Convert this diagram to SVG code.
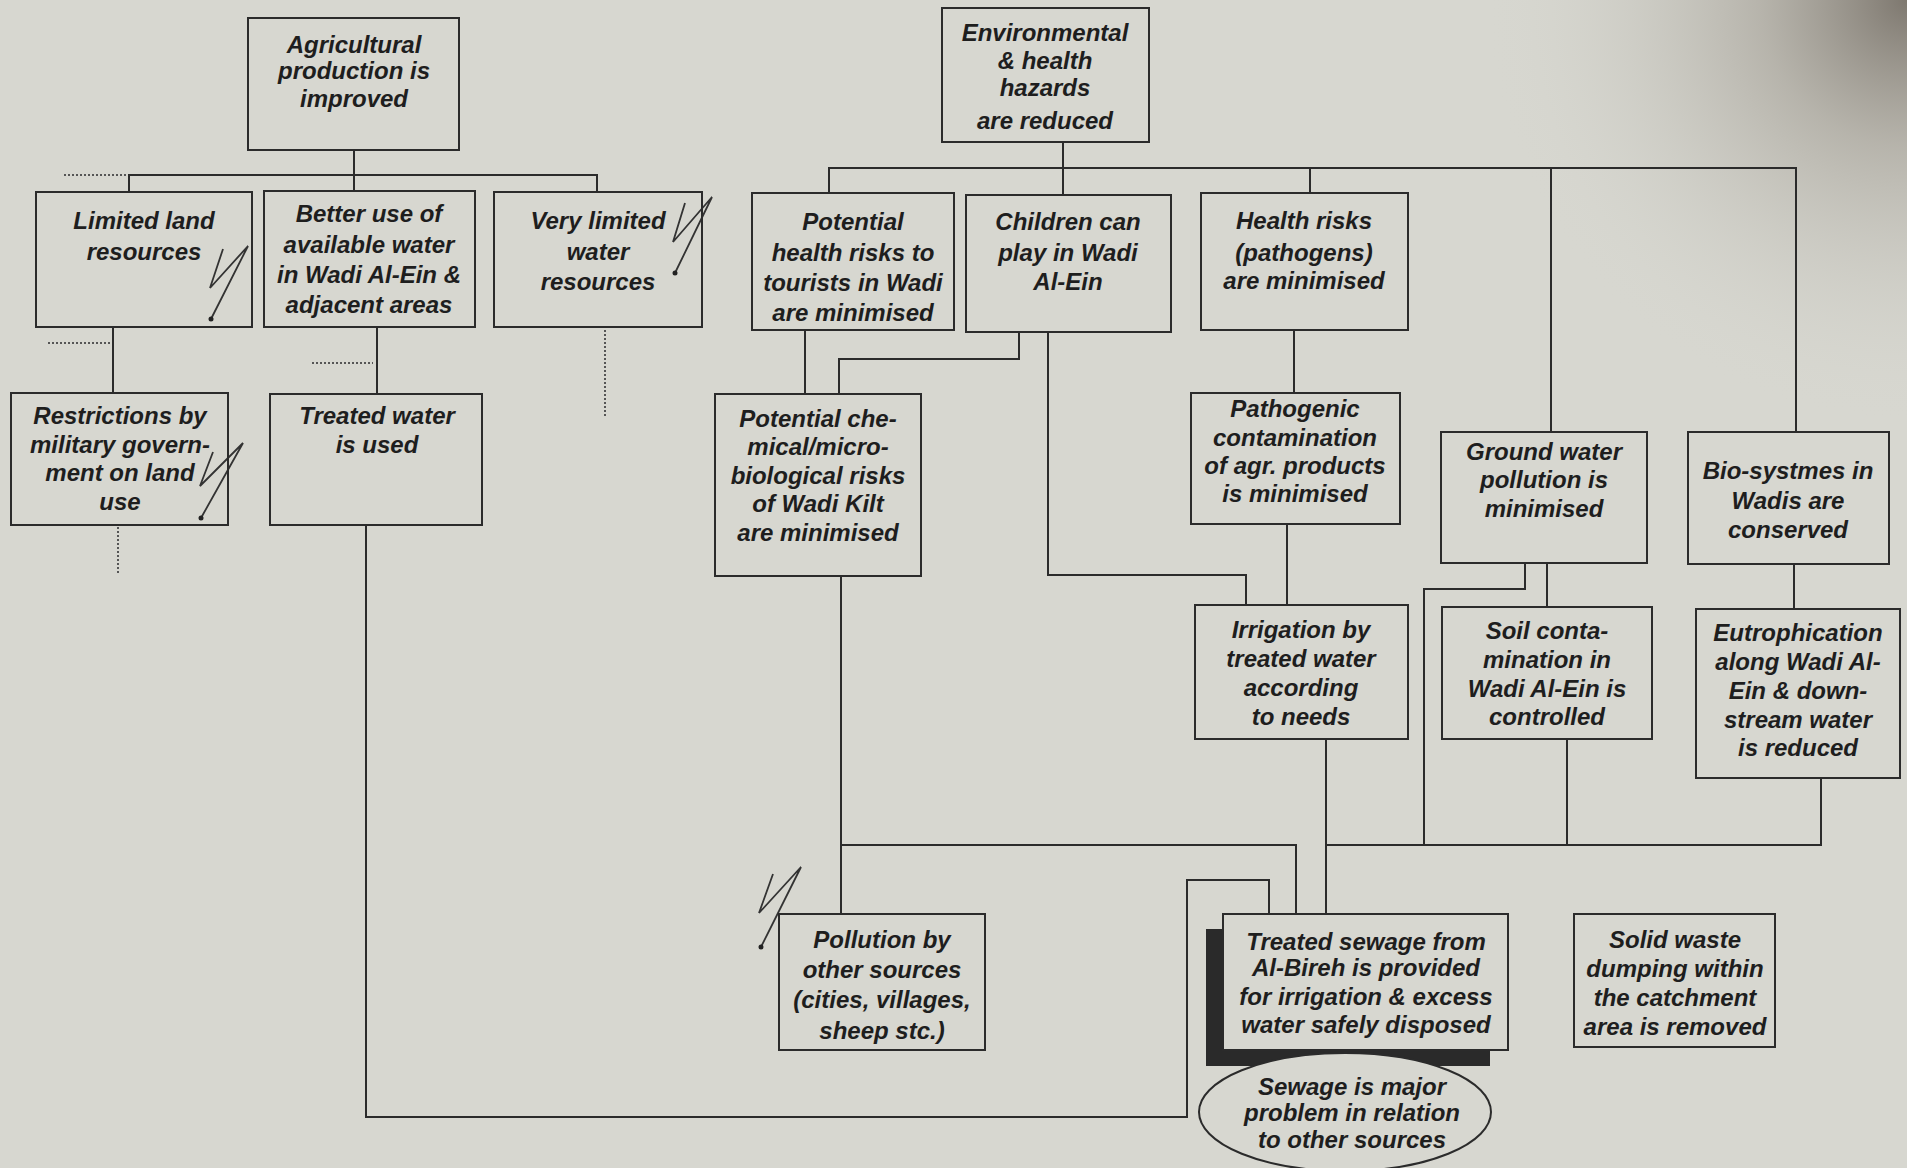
<svg xmlns="http://www.w3.org/2000/svg" width="1907" height="1168" viewBox="0 0 1907 1168">
<defs>
<radialGradient id="vig" cx="1907" cy="0" r="420" gradientUnits="userSpaceOnUse">
<stop offset="0" stop-color="#6e675e" stop-opacity="0.85"/>
<stop offset="0.35" stop-color="#8f897f" stop-opacity="0.45"/>
<stop offset="1" stop-color="#d6d6cf" stop-opacity="0"/>
</radialGradient>
<style>
.box{fill:none;stroke:#2b2b2b;stroke-width:2}
.ln{fill:none;stroke:#2b2b2b;stroke-width:2}
.dot{fill:none;stroke:#555;stroke-width:2;stroke-dasharray:2 2}
.zz{fill:none;stroke:#333;stroke-width:1.8;stroke-linejoin:miter}
.t{font-family:"Liberation Sans",Arial,sans-serif;font-style:italic;font-weight:bold;font-size:24px;fill:#1e1e1e;text-anchor:middle}
</style>
</defs>
<rect x="0" y="0" width="1907" height="1168" fill="#d7d7d0"/>
<rect x="0" y="0" width="1907" height="1168" fill="url(#vig)"/>

<g id="connectors">
<path class="ln" d="M354 150V175M129 192V175H597V192M354 175V191"/>
<path class="ln" d="M113 327V393M377 327V394"/>
<path class="ln" d="M366 525V1117H1187V880H1269V914"/>
<path class="ln" d="M1063 142V168M829 193V168H1796V432M1063 168V195M1310 168V193M1551 168V432"/>
<path class="ln" d="M805 330V394M1019 332V359H839V394"/>
<path class="ln" d="M1048 332V575H1246V605"/>
<path class="ln" d="M1294 330V393M1287 524V605"/>
<path class="ln" d="M1547 563V607M1525 563V589H1424V845"/>
<path class="ln" d="M1794 564V609"/>
<path class="ln" d="M841 576V914M841 845H1296V914"/>
<path class="ln" d="M1326 739V914M1326 845H1821V778M1567 739V845"/>
<path class="dot" d="M64 175H127M48 343H110M312 363H373M605 330V416M118 527V574"/>
</g>

<g id="marks">
<polyline class="zz" points="223,249 210,288 248,246 211,319"/><circle cx="211" cy="319" r="2.5" fill="#222"/>
<polyline class="zz" points="685,203 673,242 712,197 675,273"/><circle cx="675" cy="273" r="2.5" fill="#222"/>
<polyline class="zz" points="213,452 200,486 243,443 201,518"/><circle cx="201" cy="518" r="2.5" fill="#222"/>
<polyline class="zz" points="773,874 759,913 801,867 761,947"/><circle cx="761" cy="947" r="2.5" fill="#222"/>
</g>

<g id="n-agri">
<rect class="box" x="248" y="18" width="211" height="132"/>
<text class="t"><tspan x="354" y="53">Agricultural</tspan><tspan x="354" y="79">production is</tspan><tspan x="354" y="107">improved</tspan></text>
</g>
<g id="n-limland">
<rect class="box" x="36" y="192" width="216" height="135"/>
<text class="t"><tspan x="144" y="229">Limited land</tspan><tspan x="144" y="260">resources</tspan></text>
</g>
<g id="n-better">
<rect class="box" x="264" y="191" width="211" height="136"/>
<text class="t"><tspan x="369" y="222">Better use of</tspan><tspan x="369" y="253">available water</tspan><tspan x="369" y="283">in Wadi Al-Ein &amp;</tspan><tspan x="369" y="313">adjacent areas</tspan></text>
</g>
<g id="n-verylim">
<rect class="box" x="494" y="192" width="208" height="135"/>
<text class="t"><tspan x="598" y="229">Very limited</tspan><tspan x="598" y="260">water</tspan><tspan x="598" y="290">resources</tspan></text>
</g>
<g id="n-restrict">
<rect class="box" x="11" y="393" width="217" height="132"/>
<text class="t"><tspan x="120" y="424">Restrictions by</tspan><tspan x="120" y="453">military govern-</tspan><tspan x="120" y="481">ment on land</tspan><tspan x="120" y="510">use</tspan></text>
</g>
<g id="n-treatedwater">
<rect class="box" x="270" y="394" width="212" height="131"/>
<text class="t"><tspan x="377" y="424">Treated water</tspan><tspan x="377" y="453">is used</tspan></text>
</g>

<g id="n-env">
<rect class="box" x="942" y="8" width="207" height="134"/>
<text class="t"><tspan x="1045" y="41">Environmental</tspan><tspan x="1045" y="69">&amp; health</tspan><tspan x="1045" y="96">hazards</tspan><tspan x="1045" y="129">are reduced</tspan></text>
</g>
<g id="n-tourists">
<rect class="box" x="752" y="193" width="202" height="137"/>
<text class="t"><tspan x="853" y="230">Potential</tspan><tspan x="853" y="261">health risks to</tspan><tspan x="853" y="291">tourists in  Wadi</tspan><tspan x="853" y="321">are minimised</tspan></text>
</g>
<g id="n-children">
<rect class="box" x="966" y="195" width="205" height="137"/>
<text class="t"><tspan x="1068" y="230">Children can</tspan><tspan x="1068" y="261">play in Wadi</tspan><tspan x="1068" y="290">Al-Ein</tspan></text>
</g>
<g id="n-healthrisks">
<rect class="box" x="1201" y="193" width="207" height="137"/>
<text class="t"><tspan x="1304" y="229">Health risks</tspan><tspan x="1304" y="261">(pathogens)</tspan><tspan x="1304" y="289">are minimised</tspan></text>
</g>
<g id="n-chemical">
<rect class="box" x="715" y="394" width="206" height="182"/>
<text class="t"><tspan x="818" y="427">Potential che-</tspan><tspan x="818" y="455">mical/micro-</tspan><tspan x="818" y="484">biological risks</tspan><tspan x="818" y="512">of Wadi Kilt</tspan><tspan x="818" y="541">are minimised</tspan></text>
</g>
<g id="n-pathogenic">
<rect class="box" x="1191" y="393" width="209" height="131"/>
<text class="t"><tspan x="1295" y="417">Pathogenic</tspan><tspan x="1295" y="446">contamination</tspan><tspan x="1295" y="474">of agr. products</tspan><tspan x="1295" y="502">is minimised</tspan></text>
</g>
<g id="n-groundwater">
<rect class="box" x="1441" y="432" width="206" height="131"/>
<text class="t"><tspan x="1544" y="460">Ground water</tspan><tspan x="1544" y="488">pollution is</tspan><tspan x="1544" y="517">minimised</tspan></text>
</g>
<g id="n-bio">
<rect class="box" x="1688" y="432" width="201" height="132"/>
<text class="t"><tspan x="1788" y="479">Bio-systmes in</tspan><tspan x="1788" y="509">Wadis are</tspan><tspan x="1788" y="538">conserved</tspan></text>
</g>
<g id="n-irrigation">
<rect class="box" x="1195" y="605" width="213" height="134"/>
<text class="t"><tspan x="1301" y="638">Irrigation by</tspan><tspan x="1301" y="667">treated water</tspan><tspan x="1301" y="696">according</tspan><tspan x="1301" y="725">to needs</tspan></text>
</g>
<g id="n-soil">
<rect class="box" x="1442" y="607" width="210" height="132"/>
<text class="t"><tspan x="1547" y="639">Soil conta-</tspan><tspan x="1547" y="668">mination in</tspan><tspan x="1547" y="697">Wadi Al-Ein is</tspan><tspan x="1547" y="725">controlled</tspan></text>
</g>
<g id="n-eutro">
<rect class="box" x="1696" y="609" width="204" height="169"/>
<text class="t"><tspan x="1798" y="641">Eutrophication</tspan><tspan x="1798" y="670">along Wadi Al-</tspan><tspan x="1798" y="699">Ein &amp; down-</tspan><tspan x="1798" y="728">stream water</tspan><tspan x="1798" y="756">is reduced</tspan></text>
</g>
<g id="n-pollution">
<rect class="box" x="779" y="914" width="206" height="136"/>
<text class="t"><tspan x="882" y="948">Pollution by</tspan><tspan x="882" y="978">other sources</tspan><tspan x="882" y="1008">(cities, villages,</tspan><tspan x="882" y="1039">sheep stc.)</tspan></text>
</g>
<g id="n-sewage">
<rect x="1206" y="929" width="284" height="137" fill="#2a2a2a"/>
<rect x="1223" y="914" width="285" height="136" fill="#d7d7d0" stroke="#2b2b2b" stroke-width="2"/>
<text class="t"><tspan x="1366" y="950">Treated sewage from</tspan><tspan x="1366" y="976">Al-Bireh is provided</tspan><tspan x="1366" y="1005">for irrigation &amp; excess</tspan><tspan x="1366" y="1033">water safely disposed</tspan></text>
</g>
<g id="n-major">
<ellipse cx="1345" cy="1112" rx="146" ry="59" fill="#d7d7d0" stroke="#2b2b2b" stroke-width="2"/>
<text class="t"><tspan x="1352" y="1095">Sewage is major</tspan><tspan x="1352" y="1121">problem in relation</tspan><tspan x="1352" y="1148">to other sources</tspan></text>
</g>
<g id="n-solid">
<rect class="box" x="1574" y="914" width="201" height="133"/>
<text class="t"><tspan x="1675" y="948">Solid waste</tspan><tspan x="1675" y="977">dumping within</tspan><tspan x="1675" y="1006">the catchment</tspan><tspan x="1675" y="1035">area is removed</tspan></text>
</g>
</svg>
